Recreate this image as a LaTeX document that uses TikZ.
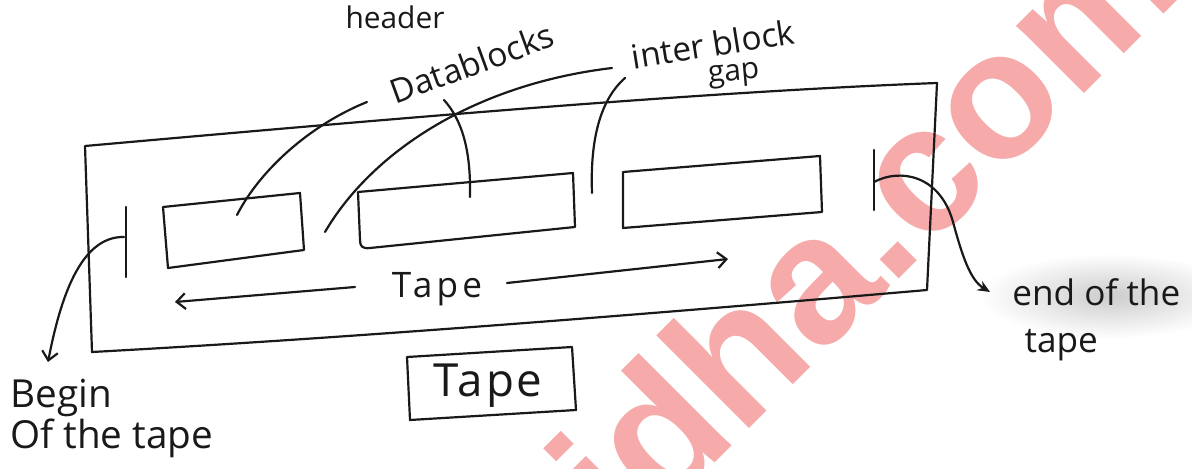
\documentclass[tikz,border=0pt]{standalone}
\usepackage{fontspec}
\usetikzlibrary{arrows.meta}
\newfontfamily\handfont{Open Sans}
\newfontfamily\wmfont{Liberation Sans}
\definecolor{inkc}{RGB}{25,25,25}
\definecolor{wmc}{RGB}{246,170,170}
\begin{document}
\begin{tikzpicture}[x=0.02cm, y=-0.02cm, line cap=round, line join=round,
  ink/.style={draw=inkc, line width=1.25pt},
  lbl/.style={text=inkc, inner sep=0pt},
  barb/.style={-{Straight Barb[length=5pt,width=9pt]}},
  stl/.style={-{Stealth[length=7pt,width=6pt]}}]
\useasboundingbox (0,0) rectangle (1192,469);
\fill[white] (0,0) rectangle (1192,469);
% scan noise patch
\shade[inner color=black!20, outer color=white] (1110,296) ellipse [x radius=2.6cm, y radius=0.85cm];
% watermark
\node[text=wmc, font={\wmfont\bfseries\fontsize{103}{103}\selectfont}, rotate=45, anchor=base, inner sep=0pt] (wm) at (908,270) {idha.com};

% key coordinates
\coordinate (otl) at (85,146);
\coordinate (otr) at (937,83);
\coordinate (obr) at (927,290);
\coordinate (obl) at (92,352);
\coordinate (bm1) at (126,207);
\coordinate (bm2) at (126,277);
\coordinate (bmo) at (124,237);
\coordinate (em1) at (874,150);
\coordinate (em2) at (874,210);
\coordinate (emo) at (874,182);

% outer tape
\draw[ink] (otl) .. controls (400,118) and (700,92) .. (otr) -- (obr)
  .. controls (650,314) and (350,338) .. (obl) -- cycle;

% blocks
\draw[ink] (163,207) coordinate (b1) -- (300,193) -- (304,250) -- (168,268) -- cycle;
\draw[ink] (358,192) coordinate (b2) -- (573,173) -- (575,227) -- (370,248)
  .. controls (362,249) and (360,246) .. (360,240) -- cycle;
\draw[ink] (623,172) coordinate (b3) -- (820,156) -- (822,212) -- (623,228) -- cycle;

% markers
\draw[ink] (bm1) -- (bm2);
\draw[ink] (em1) -- (em2);

% labels
\node[lbl, font={\handfont\fontsize{17}{17}\selectfont}] (hdr) at (395,17) {header};
\node[lbl, font={\handfont\fontsize{19}{19}\selectfont}, rotate=20] (dbl) at (472,63) {Datablocks};
\node[lbl, font={\handfont\fontsize{19}{19}\selectfont}, rotate=9] (ibg) at (713,44) {inter block};
\node[lbl, font={\handfont\fontsize{17}{17}\selectfont}, rotate=5] (gap) at (734,76) {gap};
\node[lbl, font={\handfont\fontsize{20}{20}\selectfont\addfontfeatures{LetterSpace=12}}] (tmid) at (437,289) {Tape};
\node[lbl, font={\handfont\fontsize{26}{26}\selectfont\addfontfeatures{LetterSpace=6}}] (tbox) at (488,386) {Tape};
\node[lbl, font={\handfont\fontsize{22}{20.5}\selectfont}, align=left, anchor=north west] (beg) at (10,379) {Begin\\Of the tape};
\node[lbl, font={\handfont\fontsize{20}{27}\selectfont}, align=left, anchor=north west] (endl) at (1012,278) {end of the\\\hspace*{7pt}tape};

% pointer end coordinates
\coordinate (p1s) at (367,102);
\coordinate (p1e) at (237,215);
\coordinate (p2s) at (444,100);
\coordinate (p2e) at (470,197);
\coordinate (p3s) at (325,232);
\coordinate (p3e) at (612,68);
\coordinate (p4s) at (625,78);
\coordinate (p4e) at (592,193);

\draw[ink] (p1s) .. controls (310,125) and (260,170) .. (p1e);
\draw[ink] (p2s) .. controls (462,120) and (471,150) .. (p2e);
\draw[ink] (p3s) .. controls (370,155) and (470,85) .. (p3e);
\draw[ink] (p4s) .. controls (600,100) and (590,140) .. (p4e);

% begin / end arrows
\coordinate (bt) at (48,362);
\coordinate (et) at (990,292);
\draw[ink, barb] (bmo) .. controls (80,236) and (60,300) .. (bt);
\draw[ink, stl] (emo) .. controls (900,168) and (940,175) .. (953,222)
  .. controls (962,255) and (970,280) .. (et);

% tape direction arrows
\coordinate (la) at (175,302);
\coordinate (ra) at (728,259);
\draw[ink, barb] (355,287) -- (la);
\draw[ink, barb] (507,283) -- (ra);

% tape caption box
\draw[ink] (407,357) -- (572,347) -- (576,410) -- (410,420) -- cycle;
\end{tikzpicture}
\end{document}
